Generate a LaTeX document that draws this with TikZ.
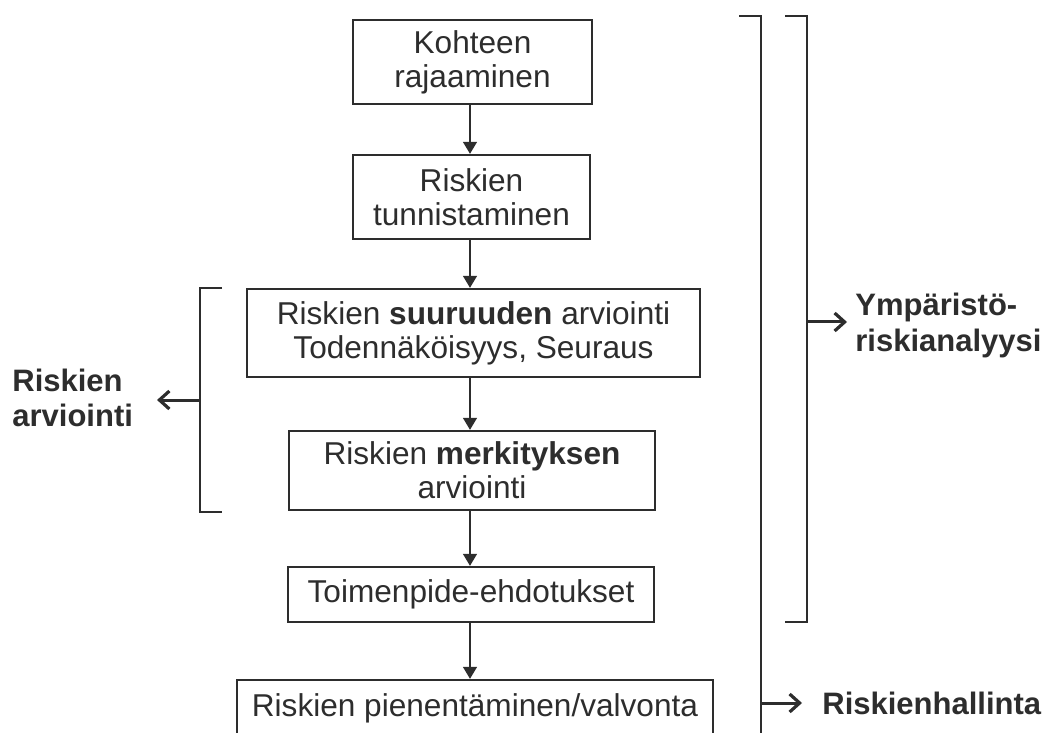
\documentclass[tikz,border=0pt]{standalone}
\usepackage{fontspec}
\setmainfont{Liberation Sans}
\usetikzlibrary{arrows.meta}
\definecolor{inkgray}{RGB}{45, 45, 45}

\begin{document}
\begin{tikzpicture}[x=0.5pt, y=-0.5pt,
        stepbox/.style={draw=inkgray, line width=1.2pt, align=center, text=inkgray,
                        font=\fontsize{15.8}{16.9}\selectfont, inner sep=0pt},
        flow/.style={draw=inkgray, line width=0.8pt, -{Triangle[length=6pt, width=7pt]}},
        brace/.style={draw=inkgray, line width=1.2pt},
        pointer/.style={draw=inkgray, line width=1.5pt, -{Straight Barb[length=5pt, width=9pt, line width=1.6pt]}},
        sidelabel/.style={align=left, text=inkgray, font=\fontsize{15.5}{18}\selectfont\bfseries, inner sep=0pt}]
    \useasboundingbox (0,0) rectangle (1046,733);
    % process chain
    \node[stepbox, minimum width=119.5pt, minimum height=42pt] (rajaus)    at (472.5, 62.0) {Kohteen\\rajaaminen};
    \node[stepbox, minimum width=118.5pt, minimum height=42pt] (tunnistus) at (471.5,197.0) {Riskien\\tunnistaminen};
    \node[stepbox, minimum width=226.5pt, minimum height=44pt] (suuruus)   at (473.5,333.0) {Riskien \textbf{suuruuden} arviointi\\Todennäköisyys, Seuraus};
    \node[stepbox, minimum width=183pt,   minimum height=39.5pt] (merkitys) at (472.0,470.5) {Riskien \textbf{merkityksen}\\arviointi};
    \node[stepbox, minimum width=183pt,   minimum height=27.5pt] (ehdotus)  at (471.0,594.5) {Toimenpide-ehdotukset};
    \node[stepbox, minimum width=238pt,   minimum height=30pt, text depth=5pt] (valvonta) at (475.0,710.0) {Riskien pienentäminen/valvonta};
    \foreach \a/\b in {rajaus/tunnistus, tunnistus/suuruus, suuruus/merkitys, merkitys/ehdotus, ehdotus/valvonta}
        \draw[flow] (\a.south -| 470,0) -- (\b.north -| 470,0);
    % brackets
    \draw[brace] (222,288) -- (200,288) -- (200,512) -- (222,512);
    \draw[brace] (739,16) -- (761,16) -- (761,740);
    \draw[brace] (785,16) -- (807,16) -- (807,622) -- (785,622);
    \coordinate (arvio-tip) at (157,400);
    \coordinate (ymp-tip)   at (847,322);
    \coordinate (hall-tip)  at (802,703);
    \draw[pointer] (200,400) -- (arvio-tip);
    \draw[pointer] (807,322) -- (ymp-tip);
    \draw[pointer] (761,703) -- (hall-tip);
    % side labels
    \node[sidelabel, anchor=west, font=\fontsize{15.5}{17.5}\selectfont\bfseries] (arviointi) at (12,398) {Riskien\\arviointi};
    \node[sidelabel, anchor=west]  (ymparisto) at (855,325) {Ympäristö-\\riskianalyysi};
    \node[sidelabel, anchor=west]  (hallinta)  at (822,703) {Riskienhallinta};
\end{tikzpicture}
\end{document}
